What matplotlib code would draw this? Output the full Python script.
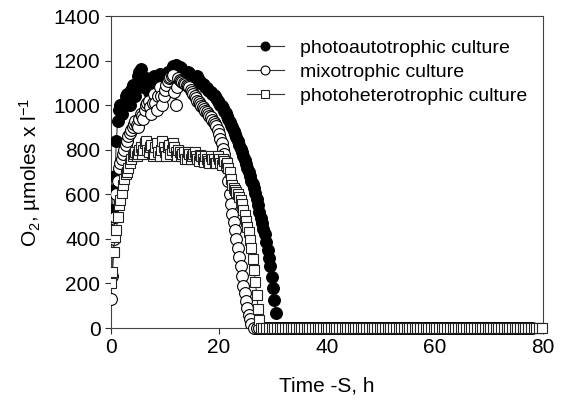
import numpy as np
import matplotlib
matplotlib.use("Agg")
import matplotlib.pyplot as plt

plt.rcParams['font.family'] = ['Liberation Sans', 'DejaVu Sans']
plt.rcParams['mathtext.fontset'] = 'custom'
plt.rcParams['mathtext.rm'] = 'Liberation Sans'
plt.rcParams['mathtext.it'] = 'Liberation Sans:italic'

# photoautotrophic culture (filled circles), sampled every 0.25 h
t_auto = np.arange(0, 30.51, 0.25)
o2_auto = [440, 530, 620, 680, 840, 930, 980, 1000,
           960, 990, 1010, 1040, 1050, 1020, 1000, 1070,
           1090, 1060, 1040, 1100, 1130, 1150, 1160, 1120,
           1080, 1100, 1120, 1090, 1060, 1090, 1110, 1120,
           1130, 1110, 1100, 1120, 1140, 1130, 1120, 1100,
           1110, 1130, 1150, 1145, 1140, 1160, 1175, 1170,
           1180, 1170, 1160, 1170, 1165, 1155, 1150, 1145,
           1140, 1150, 1145, 1130, 1120, 1115, 1110, 1125,
           1130, 1115, 1100, 1100, 1095, 1090, 1080, 1075,
           1070, 1065, 1060, 1050, 1045, 1040, 1030, 1020,
           1010, 1000, 995, 985, 975, 965, 950, 940,
           925, 912, 900, 885, 870, 855, 840, 822,
           805, 788, 770, 752, 735, 718, 700, 680,
           660, 645, 630, 605, 580, 550, 520, 495,
           470, 445, 420, 385, 350, 315, 280, 230,
           180, 125, 67]
t_auto_zero = np.arange(30.75, 76.1, 0.5)

# mixotrophic culture (open circles)
t_mixo = np.arange(0, 26.01, 0.25)
o2_mixo = [130, 235, 400, 500, 600, 660, 720, 740,
           760, 780, 800, 820, 840, 860, 875, 890,
           900, 915, 930, 910, 900, 940, 960, 950,
           940, 980, 1000, 1010, 1020, 990, 960, 1010,
           1050, 1010, 980, 1040, 1080, 1040, 1000, 1040,
           1070, 1090, 1110, 1120, 1125, 1130, 1135, 1060,
           1000, 1080, 1120, 1115, 1110, 1105, 1100, 1095,
           1090, 1085, 1080, 1070, 1060, 1050, 1040, 1030,
           1020, 1012, 1005, 998, 990, 982, 975, 968,
           960, 952, 945, 935, 925, 915, 905, 890,
           870, 850, 830, 805, 780, 750, 720, 660,
           600, 555, 510, 475, 440, 400, 360, 320,
           280, 235, 190, 155, 120, 90, 60, 40,
           20]
t_mixo_zero = np.arange(26.5, 78.1, 0.5)

# photoheterotrophic culture (open squares)
t_het = np.arange(0, 27.51, 0.25)
o2_het = [200, 250, 340, 410, 440, 500, 550, 575,
          605, 640, 670, 690, 700, 720, 740, 760,
          770, 780, 790, 770, 780, 800, 810, 780,
          800, 830, 840, 800, 790, 810, 820, 770,
          780, 810, 830, 790, 770, 800, 840, 810,
          790, 770, 810, 820, 780, 800, 830, 810,
          790, 770, 800, 790, 770, 780, 790, 760,
          760, 790, 780, 760, 770, 780, 790, 770,
          760, 750, 775, 770, 760, 745, 770, 760,
          750, 740, 770, 760, 760, 740, 740, 770,
          760, 740, 730, 760, 750, 730, 740, 720,
          700, 670, 640, 630, 620, 610, 600, 590,
          575, 555, 530, 505, 480, 455, 430, 395,
          360, 310, 260, 205, 150, 85, 35]
t_het_zero = np.arange(27.75, 80.1, 0.5)

fig = plt.figure(figsize=(5.63, 4.0), dpi=100)
ax = fig.add_axes([0.197, 0.18, 0.7675, 0.78])

line_c = '#333333'
ax.plot(t_auto, o2_auto, '-o', color=line_c, lw=0.8, ms=8.5, mfc='black', mec='black', mew=0.8,
        label='photoautotrophic culture', zorder=3)
ax.plot(t_auto_zero, np.zeros(len(t_auto_zero)), 'o', ms=8.5, mfc='black', mec='black', mew=0.8,
        clip_on=False, zorder=3)

ax.plot(t_mixo, o2_mixo, '-o', color=line_c, lw=0.8, ms=8.5, mfc='white', mec='black', mew=0.8,
        label='mixotrophic culture', zorder=4)
ax.plot(t_mixo_zero, np.zeros(len(t_mixo_zero)), 'o', ms=8.5, mfc='white', mec='black', mew=0.8,
        clip_on=False, zorder=4)

ax.plot(t_het, o2_het, '-s', color=line_c, lw=0.8, ms=7.5, mfc='white', mec='#222222', mew=0.8,
        label='photoheterotrophic culture', zorder=5)
ax.plot(t_het_zero, np.zeros(len(t_het_zero)), 's', ms=7.5, mfc='white', mec='#222222', mew=0.8,
        clip_on=False, zorder=5)

ax.set_xlim(0, 80)
ax.set_ylim(0, 1400)
ax.set_xticks([0, 20, 40, 60, 80])
ax.set_yticks(range(0, 1401, 200))
ax.tick_params(direction='out', length=4, width=0.8, labelsize=15, color='#333333')
for s in ax.spines.values():
    s.set_linewidth(0.8)
    s.set_color('#444444')

ax.set_xlabel('Time -S, h', fontsize=15, labelpad=14)
ax.set_ylabel(u'O$_2$, \u00b5moles x l$^{-1}$', fontsize=15, labelpad=8)

ax.legend(loc='upper left', bbox_to_anchor=(0.315, 0.925), frameon=False, fontsize=14,
          handlelength=1.9, handletextpad=0.85, labelspacing=0.33, markerscale=0.75,
          borderpad=0, borderaxespad=0)

fig.savefig('out.png', dpi=100)
